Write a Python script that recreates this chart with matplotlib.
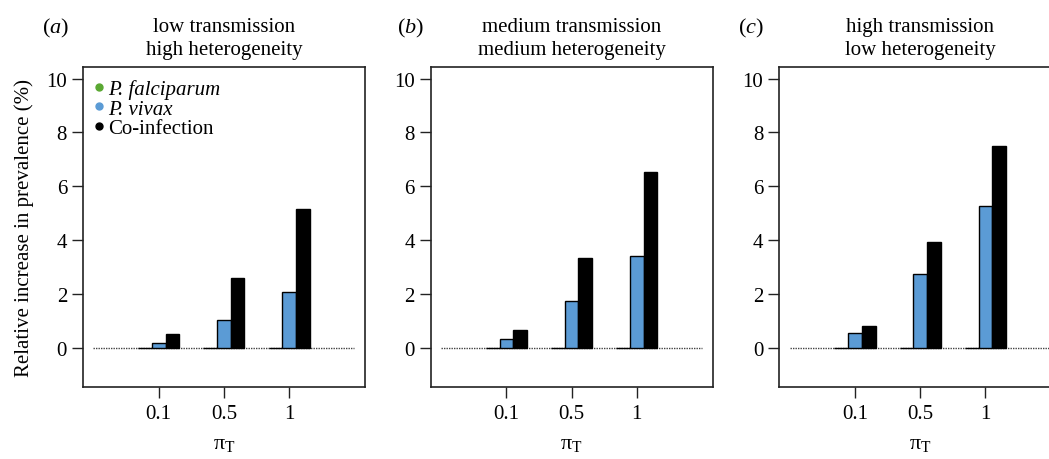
import matplotlib
matplotlib.use("Agg")
import matplotlib.pyplot as plt
from matplotlib.lines import Line2D
import numpy as np

plt.rcParams['font.family'] = ['Liberation Serif', 'DejaVu Serif']
plt.rcParams['mathtext.fontset'] = 'custom'
plt.rcParams['mathtext.rm'] = 'Liberation Serif'
plt.rcParams['mathtext.it'] = 'Liberation Serif:italic'

# ---- data ----
pi_T_labels = ["0.1", "0.5", "1"]
panel_letters = ["a", "b", "c"]
panel_line1 = ["low transmission", "medium transmission", "high transmission"]
panel_line2 = ["high heterogeneity", "medium heterogeneity", "low heterogeneity"]
series_names = ["P. falciparum", "P. vivax", "Co-infection"]

falciparum_a = [0.0, 0.0, 0.0]
vivax_a = [0.18, 1.04, 2.07]
coinf_a = [0.51, 2.60, 5.17]

falciparum_b = [0.0, 0.0, 0.0]
vivax_b = [0.35, 1.74, 3.43]
coinf_b = [0.68, 3.33, 6.52]

falciparum_c = [0.0, 0.0, 0.0]
vivax_c = [0.58, 2.76, 5.27]
coinf_c = [0.83, 3.92, 7.51]

yticks = [0, 2, 4, 6, 8, 10]

panels = [
    (falciparum_a, vivax_a, coinf_a),
    (falciparum_b, vivax_b, coinf_b),
    (falciparum_c, vivax_c, coinf_c),
]

colors = ["#5aa832", "#5b9bd5", "#000000"]

W, H = 1049, 460
fig = plt.figure(figsize=(W / 100, H / 100), dpi=100)

lefts_px = [83, 430.7, 779.3]
letter_px = [42, 397, 738]
ax_w_px = 281.8
ax_top_px = 67.7
ax_bot_px = 388.0

x = np.arange(1, len(pi_T_labels) + 1)
bw = 0.21
fs = 15

for i, (vals, lpx, letx) in enumerate(zip(panels, lefts_px, letter_px)):
    ax = fig.add_axes([lpx / W, 1 - ax_bot_px / H, ax_w_px / W,
                       (ax_bot_px - ax_top_px) / H])
    ax.hlines(0, 0, 4, colors="#444444", linestyles=(0, (1, 0.8)), lw=1.0,
              zorder=1)
    for j, (v, c) in enumerate(zip(vals, colors)):
        ax.bar(x + (j - 1) * bw, v, width=bw, color=c, edgecolor="black",
               linewidth=1.0, zorder=2)
    ax.set_xlim(-0.16, 4.16)
    ax.set_ylim(-1.44, 10.44)
    ax.set_xticks(x)
    ax.set_xticklabels(pi_T_labels, fontsize=fs)
    ax.set_yticks(yticks)
    ax.set_yticklabels([str(t) for t in yticks], fontsize=fs)
    ax.tick_params(direction="out", length=8, width=1.0, color="#222222",
                   pad=3.5)
    ax.tick_params(axis="x", pad=4.5)
    for s in ax.spines.values():
        s.set_linewidth(1.2)
        s.set_color("#222222")
    ax.set_xlabel(r"$\mathrm{π}_{\mathrm{T}}$", fontsize=fs + 1, labelpad=8)
    if i == 0:
        ax.set_ylabel("Relative increase in prevalence (%)", fontsize=fs,
                      labelpad=9)
        handles = [Line2D([], [], marker="o", ls="none", color=c,
                          markersize=5) for c in colors]
        leg = ax.legend(handles, series_names, loc="upper left",
                        bbox_to_anchor=(0.004, 0.981),
                        frameon=False, fontsize=fs, handletextpad=0.05,
                        borderaxespad=0.1, labelspacing=0.0,
                        handlelength=0.8, borderpad=0.2)
        for t in leg.get_texts()[:2]:
            t.set_fontstyle("italic")
    cx = (lpx + ax_w_px / 2) / W
    fig.text(cx, 1 - 32 / H, panel_line1[i], ha="center", va="baseline",
             fontsize=fs)
    fig.text(cx, 1 - 55 / H, panel_line2[i], ha="center", va="baseline",
             fontsize=fs)
    fig.text(letx / W, 1 - 33 / H, "($" + panel_letters[i] + "$)",
             ha="left", va="baseline", fontsize=fs + 1)

fig.savefig("out.png", dpi=100)
